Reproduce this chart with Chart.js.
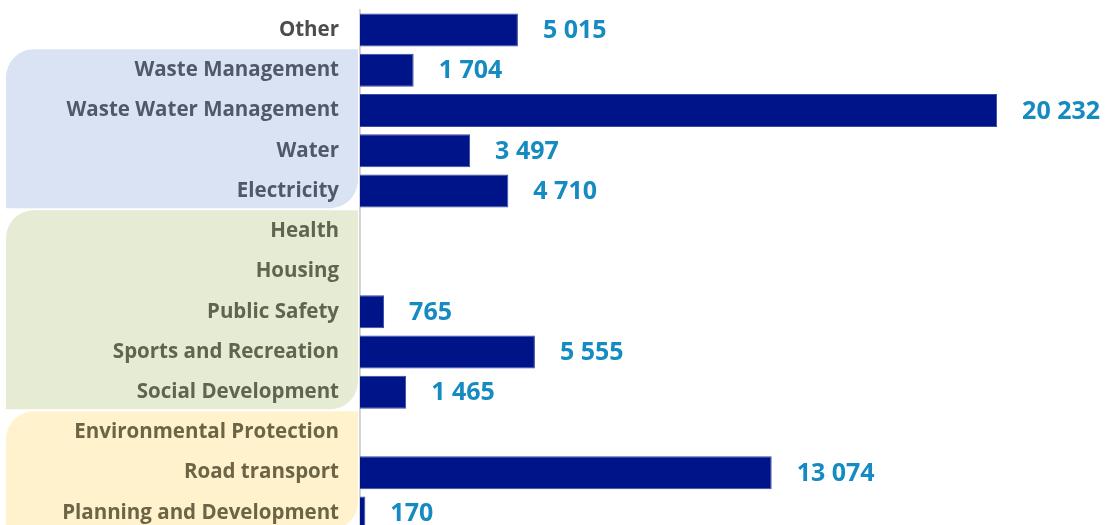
<!DOCTYPE html>
<html>
<head>
<meta charset="utf-8">
<script src="https://cdn.jsdelivr.net/npm/chart.js@4"></script>
<style>
  html, body { margin: 0; padding: 0; background: #fff; overflow: hidden; }
  #wrap { position: absolute; left: 0; top: 0; width: 1109px; height: 540px; }
</style>
</head>
<body>
<div id="wrap"><canvas id="capexChart" width="1109" height="540"></canvas></div>
<script>
const categories = [
  'Other',
  'Waste Management',
  'Waste Water Management',
  'Water',
  'Electricity',
  'Health',
  'Housing',
  'Public Safety',
  'Sports and Recreation',
  'Social Development',
  'Environmental Protection',
  'Road transport',
  'Planning and Development'
];

const values = [5015, 1704, 20232, 3497, 4710, null, null, 765, 5555, 1465, null, 13074, 170];

// category index ranges for the shaded groups behind the labels
const groupFirst = [1, 5, 10];
const groupLast = [4, 9, 12];
const groupFill = ['#dae3f3', '#e6ebd4', '#fff2cc'];
const groupText = ['#4f5969', '#5e6650', '#6c6447'];

function formatValue(v) {
  return String(v).replace(/\B(?=(\d{3})+(?!\d))/g, ' ');
}

function labelColor(i) {
  for (let g = 0; g < groupFirst.length; g++) {
    if (i >= groupFirst[g] && i <= groupLast[g]) return groupText[g];
  }
  return '#4d4d4d';
}

const groupBoxes = {
  id: 'groupBoxes',
  beforeDraw(chart) {
    const ctx = chart.ctx;
    const y = chart.scales.y;
    const band = (y.getPixelForValue(1) - y.getPixelForValue(0));
    ctx.save();
    for (let g = 0; g < groupFirst.length; g++) {
      const top = y.getPixelForValue(groupFirst[g]) - band / 2 - 1;
      const bottom = y.getPixelForValue(groupLast[g]) + band / 2 - 3;
      ctx.fillStyle = groupFill[g];
      ctx.beginPath();
      ctx.roundRect(6, top, chart.chartArea.left - 2 - 6, bottom - top, [28, 0, 28, 0]);
      ctx.fill();
    }
    ctx.restore();
  }
};

const valueLabels = {
  id: 'valueLabels',
  afterDatasetsDraw(chart) {
    const ctx = chart.ctx;
    const meta = chart.getDatasetMeta(0);
    ctx.save();
    ctx.font = 'bold 25px "Open Sans"';
    ctx.fillStyle = '#168bc2';
    ctx.textAlign = 'left';
    ctx.textBaseline = 'middle';
    meta.data.forEach((bar, i) => {
      if (values[i] == null) return;
      ctx.fillText(formatValue(values[i]), bar.x + 25, bar.y + 1);
    });
    ctx.restore();
  }
};

new Chart(document.getElementById('capexChart'), {
  type: 'bar',
  data: {
    labels: categories,
    datasets: [{
      data: values,
      backgroundColor: '#001489',
      borderColor: '#3b4aa3',
      borderWidth: 1,
      barPercentage: 0.82,
      categoryPercentage: 1
    }]
  },
  options: {
    indexAxis: 'y',
    responsive: false,
    animation: false,
    layout: { padding: { top: 10, bottom: 7, left: 0, right: 9 } },
    plugins: {
      legend: { display: false },
      tooltip: { enabled: false }
    },
    scales: {
      x: {
        display: false,
        min: 0,
        max: 23500
      },
      y: {
        afterFit(scale) {
          scale.width = 360;
          scale.paddingTop = 0;
          scale.paddingBottom = 0;
        },
        grid: { display: false, drawTicks: false },
        border: { display: true, color: '#d4d4d4', width: 2 },
        ticks: {
          padding: 21,
          color: (c) => labelColor(c.index),
          font: { family: '"Open Sans"', size: 20.5, weight: 'bold' }
        }
      }
    }
  },
  plugins: [groupBoxes, valueLabels]
});
</script>
</body>
</html>
